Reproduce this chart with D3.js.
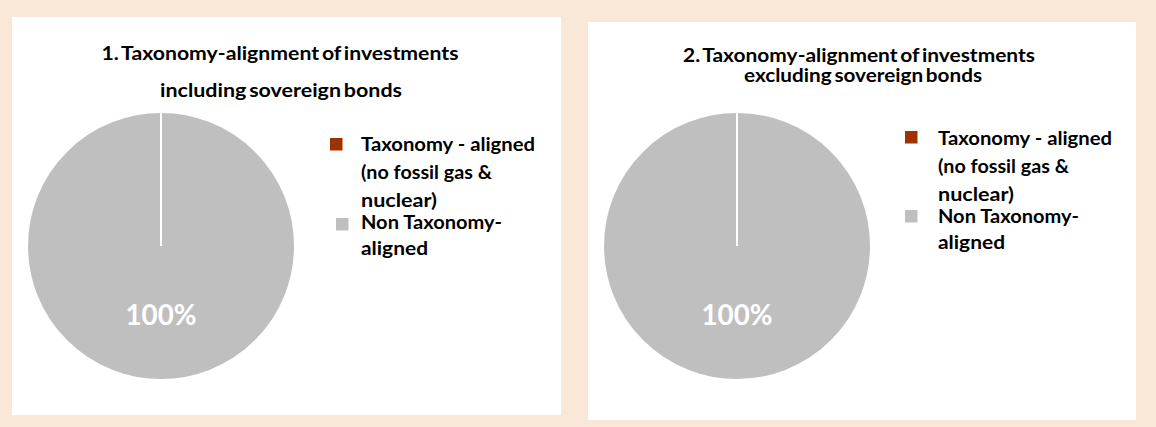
<!DOCTYPE html>
<html>
<head>
<meta charset="utf-8">
<script src="https://cdn.jsdelivr.net/npm/d3@7"></script>
<style>
  html, body { margin: 0; padding: 0; background: #F9E8D7; }
  svg { display: block; }
  text { font-family: Lato, "Open Sans", sans-serif; font-weight: 700; }
</style>
</head>
<body>
<svg id="chart" width="1156" height="427"></svg>
<script>
// ---- data ----
const categories = ["Taxonomy - aligned (no fossil gas & nuclear)", "Non Taxonomy-aligned"];
const legendLines = [["Taxonomy - aligned", "(no fossil gas &", "nuclear)"], ["Non Taxonomy-", "aligned"]];
const titles1 = ["1. Taxonomy-alignment of investments", "including sovereign bonds"];
const titles2 = ["2. Taxonomy-alignment of investments", "excluding sovereign bonds"];
const values1 = [0, 100];
const values2 = [0, 100];
const colors = ["#9E3200", "#BFBFBF"];

// ---- layout ----
const svg = d3.select("#chart");
svg.append("rect").attr("width", 1156).attr("height", 427).attr("fill", "#F9E8D7");

const panels = [
  { x: 12, y: 17, w: 549, h: 398, titles: titles1, values: values1,
    titleX: [280, 281], titleY: [60, 97], titleW: [357, 242], cx: 161, cy: 246, r: 134,
    legX: 361, legY: 151, sq: [[330, 138], [336, 218]] },
  { x: 588, y: 22, w: 548, h: 398, titles: titles2, values: values2,
    titleX: [859, 863], titleY: [62, 82], titleW: [352, 238], cx: 737, cy: 246, r: 134,
    legX: 938, legY: 145, sq: [[905, 131], [905, 210]] }
];
const lineOffsets = [[0, 28, 56], [78, 104]];
const legendW = [[174, 131, 76], [141, 67]];

const color = d3.scaleOrdinal().domain(categories).range(colors);
const pie = d3.pie().sort(null).value(d => d.v);

panels.forEach(p => {
  const g = svg.append("g");
  g.append("rect").attr("x", p.x).attr("y", p.y).attr("width", p.w).attr("height", p.h).attr("fill", "#FFFFFF");

  g.selectAll("text.title").data(p.titles).join("text")
    .attr("class", "title")
    .attr("x", (d, i) => p.titleX[i]).attr("y", (d, i) => p.titleY[i])
    .attr("text-anchor", "middle")
    .attr("font-size", 18)
    .attr("word-spacing", -2)
    .attr("textLength", (d, i) => p.titleW[i])
    .attr("lengthAdjust", "spacingAndGlyphs")
    .attr("fill", "#000")
    .text(d => d);

  const data = categories.map((c, i) => ({ c, v: p.values[i] }));
  const arcs = pie(data);
  const arc = d3.arc().innerRadius(0).outerRadius(p.r);
  const labelArc = d3.arc().innerRadius(p.r * 0.51).outerRadius(p.r * 0.51);
  const pg = g.append("g").attr("transform", `translate(${p.cx},${p.cy})`);
  pg.selectAll("path").data(arcs).join("path")
    .attr("d", arc)
    .attr("fill", d => color(d.data.c))
    .attr("stroke", "#FFFFFF")
    .attr("stroke-width", 2)
    .filter(d => d.data.v === 0).raise();
  pg.selectAll("text").data(arcs.filter(d => d.data.v > 0)).join("text")
    .attr("transform", d => `translate(${labelArc.centroid(d)})`)
    .attr("text-anchor", "middle")
    .attr("dominant-baseline", "central")
    .attr("font-size", 28)
    .attr("textLength", 71)
    .attr("lengthAdjust", "spacingAndGlyphs")
    .attr("fill", "#FFFFFF")
    .text(d => d3.format(".0%")(d.data.v / d3.sum(data, e => e.v)));

  // legend
  categories.forEach((c, i) => {
    g.append("rect").attr("x", p.sq[i][0]).attr("y", p.sq[i][1])
      .attr("width", 12.5).attr("height", 12.5).attr("fill", color(c));
    legendLines[i].forEach((ln, j) => {
      g.append("text").attr("x", p.legX).attr("y", p.legY + lineOffsets[i][j])
        .attr("font-size", 19.5)
        .attr("textLength", legendW[i][j])
        .attr("lengthAdjust", "spacingAndGlyphs")
        .attr("fill", "#000")
        .text(ln);
    });
  });
});
</script>
</body>
</html>
